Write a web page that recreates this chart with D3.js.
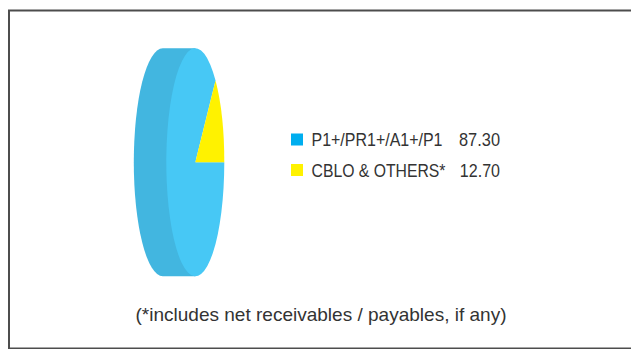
<!DOCTYPE html>
<html>
<head>
<meta charset="utf-8">
<script src="https://cdn.jsdelivr.net/npm/d3@7"></script>
<style>
  html, body { margin: 0; padding: 0; background: #fff; }
  svg { display: block; }
  text { font-family: "Liberation Sans", Arial, sans-serif; fill: #333; }
</style>
</head>
<body>
<svg id="chart" width="631" height="349"></svg>
<script>
// Portfolio allocation by rating
const categories = ["P1+/PR1+/A1+/P1", "CBLO & OTHERS*"];
const values = [87.30, 12.70];
const valueLabels = ["87.30", "12.70"];
const faceColors = ["#47c8f5", "#fff200"];
const legendColors = ["#00aeef", "#fff200"];
const sideColor = "#42b6e0";
const footnote = "(*includes net receivables / payables, if any)";

const svg = d3.select("#chart");

// frame
svg.append("rect")
  .attr("x", 9).attr("y", 10.5)
  .attr("width", 700).attr("height", 338)
  .attr("fill", "none")
  .attr("stroke", "#4d4d4d")
  .attr("stroke-width", 2);

// pie geometry: a disc seen almost edge-on, extruded to the left
const cx = 195.3, cy = 162.2, rx = 29, ry = 114, depth = 32.5;

// side wall of the disc
svg.append("path")
  .attr("d", `M${cx},${cy - ry} L${cx - depth},${cy - ry} ` +
             `A${rx},${ry} 0 0 0 ${cx - depth},${cy + ry} ` +
             `L${cx},${cy + ry} Z`)
  .attr("fill", sideColor);

// front face: slices in a circle squashed horizontally
const pie = d3.pie().sort(null)
  .startAngle(Math.PI / 2)
  .endAngle(Math.PI / 2 + 2 * Math.PI);
const arc = d3.arc().innerRadius(0).outerRadius(ry);

const face = svg.append("g")
  .attr("transform", `translate(${cx},${cy}) scale(${rx / ry},1)`);
face.selectAll("path")
  .data(pie(values))
  .join("path")
  .attr("d", arc)
  .attr("fill", (d, i) => faceColors[i]);

// legend
const legendX = 291, rowY = [133.5, 164];
const nameWidths = [131, 134];
const legend = svg.append("g");
categories.forEach((c, i) => {
  legend.append("rect")
    .attr("x", legendX).attr("y", rowY[i])
    .attr("width", 12).attr("height", 12)
    .attr("fill", legendColors[i]);
  legend.append("text")
    .attr("x", 311.5).attr("y", rowY[i] + 12.7)
    .attr("font-size", 17.7)
    .attr("textLength", nameWidths[i])
    .attr("lengthAdjust", "spacingAndGlyphs")
    .text(c);
  legend.append("text")
    .attr("x", i === 0 ? 459 : 459.8).attr("y", rowY[i] + 12.7)
    .attr("font-size", 17.7)
    .attr("textLength", i === 0 ? 41 : 40.2)
    .attr("lengthAdjust", "spacingAndGlyphs")
    .text(valueLabels[i]);
});

// footnote
svg.append("text")
  .attr("x", 135.5).attr("y", 321.3)
  .attr("font-size", 18.5)
  .attr("textLength", 371)
  .attr("lengthAdjust", "spacingAndGlyphs")
  .text(footnote);
</script>
</body>
</html>
